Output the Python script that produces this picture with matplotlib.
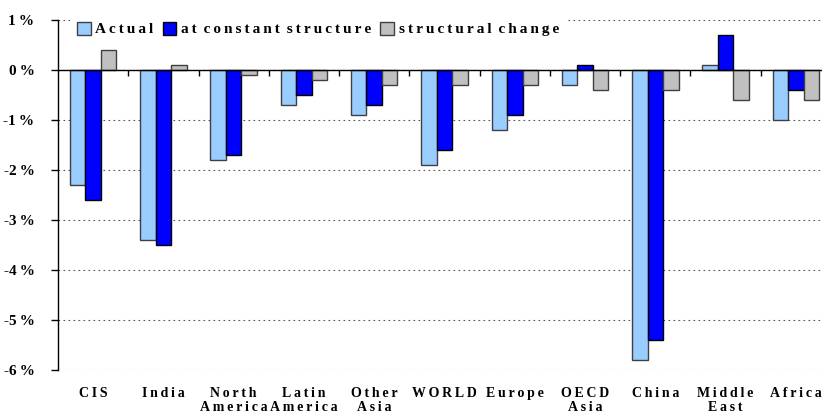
import matplotlib
matplotlib.use("Agg")
import matplotlib.pyplot as plt
from matplotlib.patches import Patch
import numpy as np

categories = ["CIS", "India", "North\nAmerica", "Latin\nAmerica", "Other\nAsia", "WORLD",
              "Europe", "OECD\nAsia", "China", "Middle\nEast", "Africa"]
actual = [-2.3, -3.4, -1.8, -0.7, -0.9, -1.9, -1.2, -0.3, -5.8, 0.1, -1.0]
constant_structure = [-2.6, -3.5, -1.7, -0.5, -0.7, -1.6, -0.9, 0.1, -5.4, 0.7, -0.4]
structural_change = [0.4, 0.1, -0.1, -0.2, -0.3, -0.3, -0.3, -0.4, -0.4, -0.6, -0.6]
series_names = ["Actual", "at constant structure", "structural change"]
yticks = [1, 0, -1, -2, -3, -4, -5, -6]

TS = "\u2009"
def spaced(s):
    lines = s.split("\n")
    out = []
    for ln in lines:
        words = ln.split(" ")
        out.append((" " + TS).join(TS.join(w) for w in words))
    return "\n".join(out)

FAM = ["Liberation Serif", "DejaVu Serif"]
plt.rcParams['font.family'] = FAM
plt.rcParams['font.weight'] = 'bold'

fig = plt.figure(figsize=(8.22, 4.15), dpi=100)
ax = fig.add_axes([58/822, 45/415, 773/822, 350/415])

n = len(categories)
x = np.arange(n)
w = 0.22
fills = ["#99CCFF", "#0000FF", "#C0C0C0"]
edges = ["#404040", "#000000", "#404040"]
data = [actual, constant_structure, structural_change]
for i, (vals, fc, ec) in enumerate(zip(data, fills, edges)):
    ax.bar(x + (i - 1) * w, vals, w, color=fc, edgecolor=ec, linewidth=1.0, zorder=3)

ax.set_xlim(-0.5, n - 0.5)
ax.set_ylim(-6, 1)
ax.set_yticks(yticks)
ax.set_yticklabels([f"{v}" + TS + "%" for v in yticks], fontsize=11, fontweight='bold')
ax.yaxis.grid(True, linestyle=(0, (1.5, 3)), color="#555555", linewidth=0.8, zorder=0)
ax.tick_params(axis='y', direction='out', length=5, width=1, pad=12)

ax.set_xticks(x)
ax.set_xticklabels([spaced(c) for c in categories], fontsize=10, fontweight='bold',
                   linespacing=1.15)
ax.tick_params(axis='x', length=0, pad=12)

for s in ["top", "right", "bottom"]:
    ax.spines[s].set_visible(False)
ax.spines['left'].set_linewidth(1.0)

ax.axhline(0, color="black", linewidth=1.0, zorder=4)
sec = ax.secondary_xaxis(0, transform=ax.transData)
sec.set_xticks(np.arange(0.5, n - 0.5, 1.0))
sec.set_xticklabels([])
sec.tick_params(direction='out', length=4, width=1)
sec.spines['bottom'].set_visible(False)

handles = [Patch(facecolor=fc, edgecolor=ec, linewidth=1.0) for fc, ec in zip(fills, edges)]
leg = ax.legend(handles, [spaced(s) for s in series_names], loc='upper left',
                bbox_to_anchor=(12/773, 1.0 + 5/350), ncol=3, frameon=True, fancybox=False,
                edgecolor='none', facecolor='white', framealpha=1.0,
                prop={'family': FAM, 'weight': 'bold', 'size': 11},
                handlelength=0.9, handleheight=0.9, handletextpad=0.3, columnspacing=0.6,
                borderpad=0.45, borderaxespad=0.0)
leg.set_zorder(5)

fig.savefig("out.png", dpi=100)
